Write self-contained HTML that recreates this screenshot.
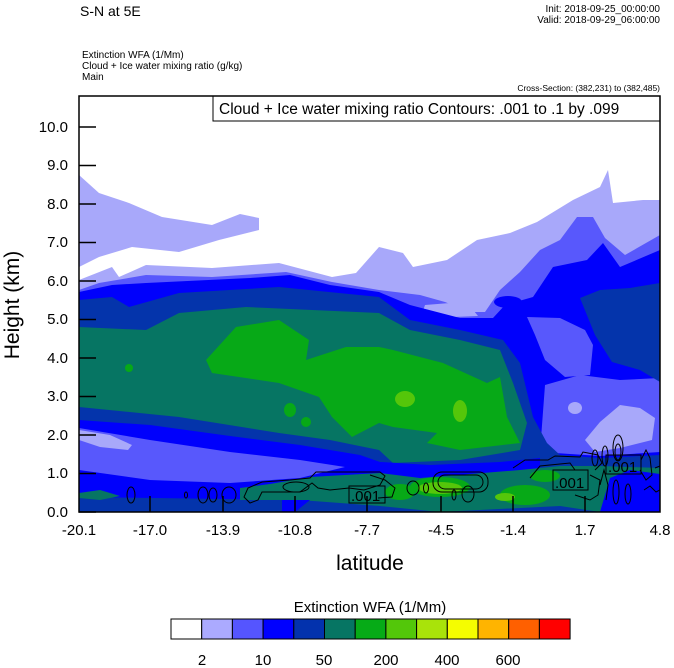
<!DOCTYPE html>
<html><head><meta charset="utf-8"><style>
body{margin:0;background:#fff;width:674px;height:668px;overflow:hidden}
svg{display:block;font-family:"Liberation Sans",Arial,sans-serif}
</style></head><body>
<svg width="674" height="668" viewBox="0 0 674 668" xmlns="http://www.w3.org/2000/svg">
<rect width="674" height="668" fill="#fff"/>
<text x="80" y="16" font-size="14">S-N at 5E</text>
<text x="660" y="12" font-size="10" text-anchor="end">Init: 2018-09-25_00:00:00</text>
<text x="660" y="23" font-size="10" text-anchor="end">Valid: 2018-09-29_06:00:00</text>
<text x="82" y="58" font-size="10">Extinction WFA   (1/Mm)</text>
<text x="82" y="69" font-size="10">Cloud + Ice water mixing ratio   (g/kg)</text>
<text x="82" y="80" font-size="10">Main</text>
<text x="660" y="91" font-size="8.5" text-anchor="end">Cross-Section: (382,231) to (382,485)</text>
<defs><clipPath id="pc"><rect x="79" y="96" width="581" height="416"/></clipPath></defs>
<g clip-path="url(#pc)">
<!-- lavender -->
<polygon fill="#a8a8fa" points="79,175 99,193 129,203 162,217 212,225 240,214 259,218 259,230 219,240 179,252 132,247 99,257 79,267 79,280 112,267 119,277 146,265 212,268 279,263 332,277 356,273 379,247 403,253 413,267 447,260 477,240 510,233 537,222 573,200 600,187 608,170 613,203 643,200 660,200 660,512 79,512"/>
<!-- medium blue -->
<polygon fill="#5858fc" points="79,290 99,283 146,275 212,277 286,272 332,282 379,290 420,295 445,302 470,312 485,312 500,290 520,272 540,250 560,240 577,217 593,217 605,238 625,255 660,235 660,512 79,512"/>
<polygon fill="#a8a8fa" points="425,305 450,303 470,306 478,316 430,318 423,311"/>
<!-- blue -->
<polygon fill="#0000fc" points="79,292 112,285 146,283 250,278 290,275 330,285 379,292 410,305 460,318 493,318 505,305 533,297 553,267 587,260 603,243 620,267 660,250 660,512 79,512"/>
<ellipse cx="508" cy="302" rx="14" ry="6" fill="#0000fc"/>
<polygon fill="#5858fc" points="527,317 560,318 585,330 593,345 590,375 565,377 545,360 535,335"/>
<polygon fill="#5858fc" points="545,385 580,375 620,380 660,378 660,452 600,456 540,452"/>
<polygon fill="#a8a8fa" points="585,440 600,422 620,405 640,408 655,418 652,440 620,448 595,452"/>
<ellipse cx="575" cy="408" rx="7" ry="6" fill="#a8a8fa"/>
<polygon fill="#a8a8fa" points="505,457 520,448 530,460 512,462"/>
<!-- navy -->
<polygon fill="#0434ab" points="79,300 112,297 129,307 179,293 279,287 379,297 410,320 460,330 503,340 520,363 533,417 547,443 560,455 600,458 660,455 660,512 79,512"/>
<polygon fill="#0434ab" points="580,298 600,290 630,288 660,283 660,382 640,370 612,362 595,335"/>
<!-- teal -->
<polygon fill="#067563" points="79,327 146,330 179,313 246,307 379,313 410,330 460,340 500,350 513,383 527,423 520,450 460,460 393,463 379,450 330,440 279,433 179,417 79,407"/>
<!-- green -->
<polygon fill="#07a917" points="206,360 236,327 279,320 309,340 306,360 346,347 379,347 393,350 443,363 487,383 500,377 507,417 520,443 460,450 427,443 437,433 393,427 379,423 352,437 332,417 319,397 279,383 212,373"/>
<ellipse cx="129" cy="368" rx="4" ry="4" fill="#07a917"/>
<ellipse cx="290" cy="410" rx="6" ry="7" fill="#07a917"/>
<ellipse cx="306" cy="422" rx="5" ry="5" fill="#07a917"/>
<ellipse cx="405" cy="399" rx="10" ry="8" fill="#55c60a"/>
<ellipse cx="460" cy="411" rx="7" ry="11" fill="#55c60a"/>
<!-- lower left bands -->
<polygon fill="#0000fc" points="79,420 150,425 230,436 300,445 360,455 380,462 430,465 500,462 540,458 540,490 300,500 79,497"/>
<polygon fill="#5858fc" points="79,428 150,440 230,452 300,460 345,467 300,478 230,483 150,480 79,470"/>
<polygon fill="#a8a8fa" points="79,430 110,435 132,445 128,450 100,447 79,440"/>
<!-- bottom teal / green -->
<polygon fill="#067563" points="240,488 270,484 310,477 380,473 420,478 470,474 520,470 560,466 600,466 660,468 660,490 620,500 600,512 560,506 440,512 380,506 300,500 240,500"/>
<polygon fill="#067563" points="79,493 100,490 120,496 100,500 79,498"/>
<ellipse cx="440" cy="487" rx="30" ry="10" fill="#07a917"/>
<ellipse cx="440" cy="488" rx="22" ry="6" fill="#55c60a"/>
<ellipse cx="525" cy="495" rx="25" ry="10" fill="#07a917"/>
<ellipse cx="505" cy="497" rx="10" ry="4" fill="#55c60a"/>
<ellipse cx="400" cy="492" rx="15" ry="8" fill="#07a917"/>
<ellipse cx="545" cy="476" rx="15" ry="6" fill="#07a917"/>
<polygon fill="#0000fc" points="610,478 630,470 660,474 660,512 600,512"/>
<polygon fill="#0000fc" points="282,500 310,500 295,512 282,512"/>
<!-- contours -->
<g fill="none" stroke="#000" stroke-width="1">
<ellipse cx="131" cy="495" rx="4" ry="8"/>
<ellipse cx="186" cy="495" rx="1.5" ry="3"/>
<ellipse cx="203" cy="495" rx="5" ry="8"/>
<ellipse cx="213" cy="495" rx="4" ry="7"/>
<ellipse cx="229" cy="495" rx="7" ry="8"/>
<path d="M248,488 L262,482 L290,480 L310,478 L316,472 L380,472 L385,476 L380,485 L364,490 L349,488 L330,490 L318,488 L312,483 L300,492 L280,492 L262,492 L258,500 L250,503 L244,497 Z"/>
<ellipse cx="296" cy="487" rx="13" ry="5"/>
<path d="M370,475 L385,480 L395,488 L392,497 L378,498"/>
<ellipse cx="413" cy="488" rx="6" ry="7"/>
<ellipse cx="426" cy="488" rx="2.5" ry="5"/>
<rect x="433" y="472" width="55" height="20" rx="9"/>
<rect x="438" y="475" width="45" height="14" rx="7"/>
<ellipse cx="454" cy="495" rx="2" ry="5"/>
<ellipse cx="468" cy="494" rx="6" ry="8"/>
<path d="M513,468 L525,460 L548,460 L555,456 L580,457 L583,452 L598,455 L602,463 L595,470"/>
<path d="M530,478 L540,466 L570,463 L575,470"/>
<path d="M590,475 L600,480 L598,495 L590,500 L575,495"/>
<ellipse cx="618" cy="448" rx="5" ry="13"/>
<ellipse cx="618" cy="452" rx="3" ry="8"/>
<path d="M641,460 L646,450 L650,458 L652,475 L646,480 L640,470"/>
<path d="M600,485 L604,470 L608,485 L606,500"/>
<ellipse cx="616" cy="492" rx="3" ry="12"/>
<ellipse cx="628" cy="494" rx="3" ry="10"/>
<path d="M644,490 L650,486 L656,492 L660,490"/>
<path d="M655,468 L660,466"/>
<ellipse cx="595" cy="458" rx="3" ry="8"/>
<ellipse cx="605" cy="456" rx="3" ry="10"/>
</g>
<g stroke="#000" stroke-width="1" fill="none">
<rect x="349" y="486" width="36" height="17"/>
<rect x="553" y="470" width="35" height="20"/>
<rect x="606" y="455" width="35" height="19"/>
</g>
<text x="351" y="501" font-size="15">.001</text>
<text x="555" y="488" font-size="15">.001</text>
<text x="608" y="472" font-size="15">.001</text>
</g>
<!-- legend box -->
<rect x="213" y="96" width="447" height="25" fill="#fff" stroke="#000" stroke-width="1"/>
<text x="219" y="114" font-size="15.5">Cloud + Ice water mixing ratio Contours: .001 to .1 by .099</text>
<!-- frame -->
<rect x="79" y="96" width="581" height="416" fill="none" stroke="#000" stroke-width="1.5"/>
<g stroke="#000" stroke-width="1.5">
<path d="M79,512h17M79,473.5h17M79,435h17M79,396.5h17M79,358h17M79,319.5h17M79,281h17M79,242.5h17M79,204h17M79,165.5h17M79,127h17"/>
<path d="M150,512v-16M223,512v-16M295,512v-16M367,512v-16M441,512v-16M513,512v-16M585,512v-16"/>
</g>
<g font-size="15" text-anchor="end">
<text x="68" y="517">0.0</text><text x="68" y="478">1.0</text><text x="68" y="440">2.0</text><text x="68" y="401">3.0</text><text x="68" y="363">4.0</text><text x="68" y="324">5.0</text><text x="68" y="286">6.0</text><text x="68" y="247">7.0</text><text x="68" y="209">8.0</text><text x="68" y="170">9.0</text><text x="68" y="132">10.0</text>
</g>
<g font-size="15" text-anchor="middle">
<text x="79" y="535">-20.1</text><text x="150" y="535">-17.0</text><text x="223" y="535">-13.9</text><text x="295" y="535">-10.8</text><text x="367" y="535">-7.7</text><text x="441" y="535">-4.5</text><text x="513" y="535">-1.4</text><text x="585" y="535">1.7</text><text x="660" y="535">4.8</text>
</g>
<text x="370" y="570" font-size="21" text-anchor="middle">latitude</text>
<text transform="translate(19,305) rotate(-90)" font-size="21" text-anchor="middle">Height (km)</text>
<text x="370" y="612" font-size="15" text-anchor="middle">Extinction WFA  (1/Mm)</text>
<g stroke="#000" stroke-width="1">
<rect x="171" y="619" width="30.7" height="20" fill="#fff"/>
<rect x="201.7" y="619" width="30.7" height="20" fill="#abaaff"/>
<rect x="232.4" y="619" width="30.7" height="20" fill="#5555ff"/>
<rect x="263.1" y="619" width="30.7" height="20" fill="#0000ff"/>
<rect x="293.8" y="619" width="30.7" height="20" fill="#0332ad"/>
<rect x="324.5" y="619" width="30.7" height="20" fill="#067563"/>
<rect x="355.2" y="619" width="30.7" height="20" fill="#06ab17"/>
<rect x="385.9" y="619" width="30.7" height="20" fill="#53c70a"/>
<rect x="416.6" y="619" width="30.7" height="20" fill="#a9e30a"/>
<rect x="447.3" y="619" width="30.7" height="20" fill="#f5fd00"/>
<rect x="478" y="619" width="30.7" height="20" fill="#ffb400"/>
<rect x="508.7" y="619" width="30.7" height="20" fill="#ff6000"/>
<rect x="539.4" y="619" width="30.7" height="20" fill="#ff0000"/>
</g>
<g font-size="15" text-anchor="middle">
<text x="202" y="665">2</text><text x="263" y="665">10</text><text x="324" y="665">50</text><text x="386" y="665">200</text><text x="447" y="665">400</text><text x="508" y="665">600</text>
</g>
</svg>
</body></html>
